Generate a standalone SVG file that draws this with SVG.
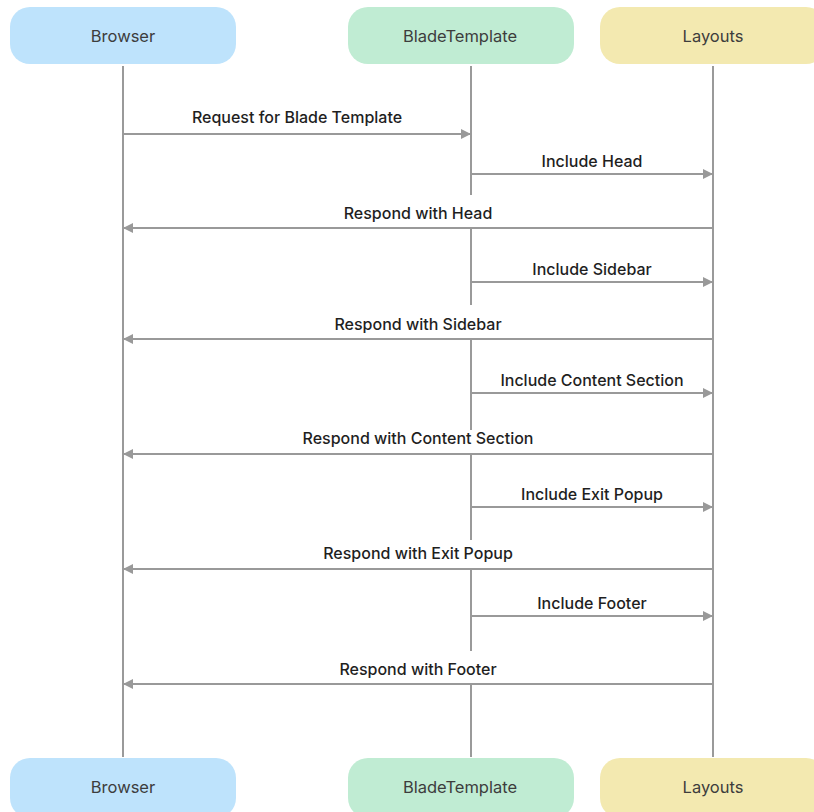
<svg xmlns="http://www.w3.org/2000/svg" width="814" height="812" viewBox="0 0 814 812">
<defs>
<style>
.life{stroke:#9a9a9a;stroke-width:2;fill:none}
.msg{stroke:#999;stroke-width:2;fill:none}
.lbl{font-family:Inter,"Liberation Sans",sans-serif;font-size:16px;fill:#1f1f1f;text-anchor:middle;font-weight:500}
.hd{font-family:Inter,"Liberation Sans",sans-serif;font-size:16.5px;fill:#3d3d3d;text-anchor:middle}
.bg{fill:#fff}
</style>
<marker id="ah" viewBox="0 0 10 10" refX="10" refY="5" markerWidth="10" markerHeight="11" markerUnits="userSpaceOnUse" orient="auto">
<path d="M0,0 L10,5 L0,10 Z" fill="#999"/>
</marker>
</defs>
<rect width="814" height="812" fill="#fff"/>
<g id="lifelines">
<line class="life" x1="123" y1="66" x2="123" y2="757"/>
<line class="life" x1="471" y1="66" x2="471" y2="757"/>
<line class="life" x1="713" y1="66" x2="713" y2="757"/>
</g>
<g id="participants">
<g id="browser-top"><rect x="10" y="7" width="226" height="57" rx="20" fill="#bee3fc"/><text class="hd" x="123" y="42">Browser</text></g>
<g id="blade-top"><rect x="348" y="7" width="226" height="57" rx="20" fill="#c0ecd3"/><text class="hd" x="460" y="42">BladeTemplate</text></g>
<g id="layouts-top"><rect x="600" y="7" width="226" height="57" rx="20" fill="#f3e9b0"/><text class="hd" x="713" y="42">Layouts</text></g>
<g id="browser-bottom"><rect x="10" y="758" width="226" height="60" rx="20" fill="#bee3fc"/><text class="hd" x="123" y="793">Browser</text></g>
<g id="blade-bottom"><rect x="348" y="758" width="226" height="60" rx="20" fill="#c0ecd3"/><text class="hd" x="460" y="793">BladeTemplate</text></g>
<g id="layouts-bottom"><rect x="600" y="758" width="226" height="60" rx="20" fill="#f3e9b0"/><text class="hd" x="713" y="793">Layouts</text></g>
</g>
<g id="connectors">
<line class="msg" x1="123" y1="134" x2="471" y2="134" marker-end="url(#ah)"/>
<text class="lbl" x="297" y="123">Request for Blade Template</text>

<line class="msg" x1="471" y1="174" x2="713" y2="174" marker-end="url(#ah)"/>
<text class="lbl" x="592" y="167">Include Head</text>

<rect class="bg" x="340" y="195" width="156" height="32"/>
<line class="msg" x1="713" y1="228" x2="123" y2="228" marker-end="url(#ah)"/>
<text class="lbl" x="418" y="219">Respond with Head</text>

<line class="msg" x1="471" y1="282" x2="713" y2="282" marker-end="url(#ah)"/>
<text class="lbl" x="592" y="275">Include Sidebar</text>

<rect class="bg" x="330" y="305" width="176" height="33"/>
<line class="msg" x1="713" y1="339" x2="123" y2="339" marker-end="url(#ah)"/>
<text class="lbl" x="418" y="330">Respond with Sidebar</text>

<line class="msg" x1="471" y1="393" x2="713" y2="393" marker-end="url(#ah)"/>
<text class="lbl" x="592" y="386">Include Content Section</text>

<rect class="bg" x="296" y="430" width="244" height="23"/>
<line class="msg" x1="713" y1="454" x2="123" y2="454" marker-end="url(#ah)"/>
<text class="lbl" x="418" y="444">Respond with Content Section</text>

<line class="msg" x1="471" y1="507" x2="713" y2="507" marker-end="url(#ah)"/>
<text class="lbl" x="592" y="500">Include Exit Popup</text>

<rect class="bg" x="318" y="540" width="200" height="28"/>
<line class="msg" x1="713" y1="569" x2="123" y2="569" marker-end="url(#ah)"/>
<text class="lbl" x="418" y="559">Respond with Exit Popup</text>

<line class="msg" x1="471" y1="616" x2="713" y2="616" marker-end="url(#ah)"/>
<text class="lbl" x="592" y="609">Include Footer</text>

<rect class="bg" x="334" y="651" width="168" height="32"/>
<line class="msg" x1="713" y1="684" x2="123" y2="684" marker-end="url(#ah)"/>
<text class="lbl" x="418" y="675">Respond with Footer</text>
</g>
</svg>
